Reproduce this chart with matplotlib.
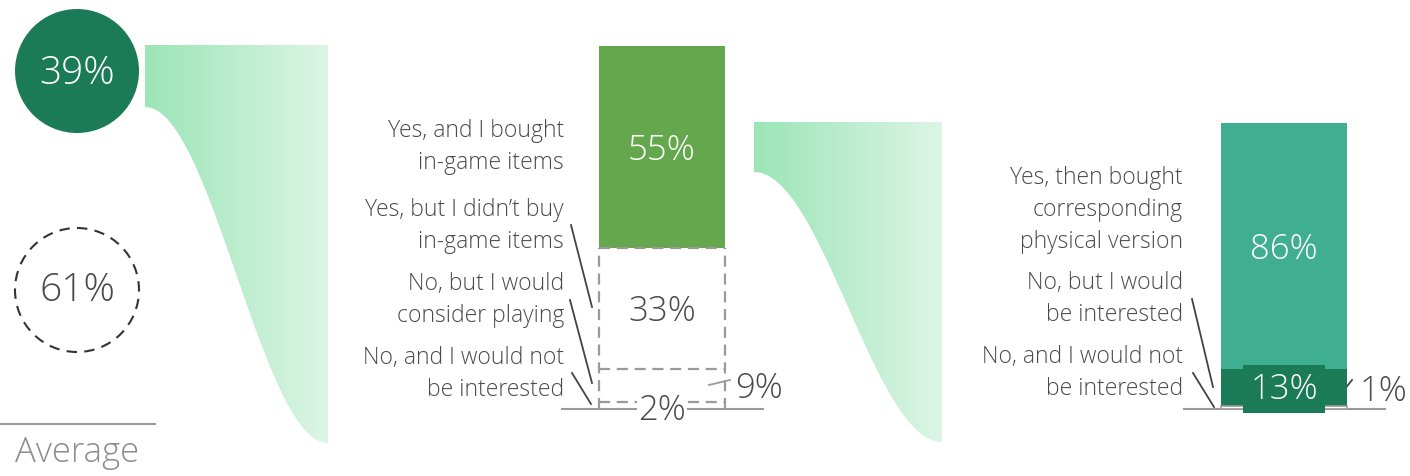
import numpy as np
import matplotlib.pyplot as plt
from matplotlib.patches import Circle, Polygon
from matplotlib.colors import LinearSegmentedColormap

# data
avg_values = [39, 61]
avg_label = 'Average'

q1_labels = ['Yes, and I bought\nin-game items',
             'Yes, but I didn\u2019t buy\nin-game items',
             'No, but I would\nconsider playing',
             'No, and I would not\nbe interested']
q1_values = [55, 33, 9, 2]

q2_labels = ['Yes, then bought\ncorresponding\nphysical version',
             'No, but I would\nbe interested',
             'No, and I would not\nbe interested']
q2_values = [86, 13, 1]

# colours
DARK = '#1b7b56'
GREEN = '#64a74d'
TEAL = '#3fae91'
TXT = '#4a4a4a'
GRAY = '#9a9a9a'

plt.rcParams['font.family'] = ['Open Sans', 'DejaVu Sans']
plt.rcParams['font.weight'] = 'light'

W, H = 1410, 476
fig = plt.figure(figsize=(W / 100, H / 100), dpi=100)

bg = fig.add_axes([0, 0, 1, 1])
bg.set_xlim(0, W)
bg.set_ylim(H, 0)
bg.axis('off')


def px_rect(x0, y0, x1, y1):
    return [x0 / W, 1 - y1 / H, (x1 - x0) / W, (y1 - y0) / H]


def funnel(x0, x1, ytop, yleft, ybot):
    t = np.linspace(0, 1, 120)
    cx = x1 - (x1 - x0) * t
    cy = yleft + (ybot - yleft) * (1 - np.cos(np.pi * (1 - t))) / 2
    pts = [(x0, ytop), (x1, ytop), (x1, ybot)] + list(zip(cx, cy))
    poly = Polygon(pts, closed=True, facecolor='none', edgecolor='none')
    bg.add_patch(poly)
    grad = np.linspace(0, 1, 256).reshape(1, -1)
    cmap = LinearSegmentedColormap.from_list('g', ['#9be5b6', '#dcf5e6'])
    im = bg.imshow(grad, cmap=cmap, extent=(x0, x1, ybot, ytop), aspect='auto')
    im.set_clip_path(poly)


# --- average circles ---
bg.add_patch(Circle((77, 71), 62, facecolor=DARK, edgecolor='none'))
bg.text(77, 74, f'{avg_values[0]}%', color='white', fontsize=28,
        ha='center', va='center')
bg.add_patch(Circle((77, 290), 62, facecolor='none', edgecolor='#333333',
                    lw=1.5, linestyle=(0, (5, 3.5))))
bg.text(77, 291, f'{avg_values[1]}%', color=TXT, fontsize=28,
        ha='center', va='center')
bg.plot([0, 155], [424, 424], color=GRAY, lw=1.5)
bg.text(77, 453, avg_label, color='#8c8c8c', fontsize=25, ha='center', va='center')

funnel(145, 328, 45, 107, 443)
funnel(754, 942, 122, 172, 442)

# --- question 1 bar ---
bg.plot([562, 763], [409, 409], color=GRAY, lw=1.5)
ax1 = fig.add_axes(px_rect(599, 46, 725, 409))
ax1.set_xlim(-0.5, 0.5)
ax1.set_ylim(0, sum(q1_values))
ax1.axis('off')
bottoms = np.cumsum([0] + q1_values[::-1][:-1])[::-1]
ax1.bar(0, q1_values[0], bottom=bottoms[0], width=1, color=GREEN)
# answers that did not play: dashed outline only
ax1.bar(0, q1_values[1:], bottom=bottoms[1:], width=1, facecolor='none',
        edgecolor='none')
dash = (0, (5, 3))
ax1.hlines(bottoms[:-1], -0.5, 0.5, colors=GRAY, lw=1.6, linestyles=[dash],
           clip_on=False)
ax1.vlines([-0.5, 0.5], 0, bottoms[0], colors=GRAY, lw=1.6, linestyles=[dash],
           clip_on=False)

ax1.text(0, bottoms[0] + q1_values[0] / 2, f'{q1_values[0]}%', color='white',
         fontsize=25, ha='center', va='center_baseline')
ax1.text(0, bottoms[1] + q1_values[1] / 2, f'{q1_values[1]}%', color=TXT,
         fontsize=25, ha='center', va='center_baseline')
ax1.text(0.58, bottoms[2] + q1_values[2] / 2, f'{q1_values[2]}%', color=TXT,
         fontsize=25, ha='left', va='center_baseline', clip_on=False)
ax1.text(0, 0.5, f'{q1_values[3]}%', color=TXT, fontsize=25, ha='center',
         va='center_baseline', clip_on=False,
         bbox=dict(facecolor='white', edgecolor='none', pad=0.5))

q1_label_y = [147, 226, 300, 374]
for lab, y in zip(q1_labels, q1_label_y):
    bg.text(564, y, lab, color=TXT, fontsize=16.5, ha='right', va='center',
            linespacing=1.42)
for (xa, ya, xb, yb) in [(571, 225, 592, 307), (570, 300, 592, 383),
                         (572, 373, 591, 404)]:
    bg.plot([xa, xb], [ya, yb], color='#444444', lw=1.3)
bg.plot([709, 730], [385, 380], color=GRAY, lw=1.3)

# --- question 2 bar ---
bg.plot([1184, 1385], [409, 409], color=GRAY, lw=1.5)
ax2 = fig.add_axes(px_rect(1221, 123, 1347, 409))
ax2.set_xlim(-0.5, 0.5)
ax2.set_ylim(0, sum(q2_values))
ax2.axis('off')
bottoms2 = np.cumsum([0] + q2_values[::-1][:-1])[::-1]
ax2.bar(0, q2_values[0], bottom=bottoms2[0], width=1, color=TEAL)
ax2.bar(0, q2_values[1], bottom=bottoms2[1], width=1, color=DARK)
ax2.bar(0, q2_values[2], bottom=bottoms2[2], width=1, facecolor='white',
        edgecolor=GRAY, lw=1.2, clip_on=False)
ax2.text(0, bottoms2[0] + q2_values[0] / 2, f'{q2_values[0]}%', color='white',
         fontsize=25, ha='center', va='center_baseline')
ax2.text(0, bottoms2[1] + q2_values[1] / 2 + 0.8, f'{q2_values[1]}%',
         color='white', fontsize=25, ha='center', va='center_baseline',
         bbox=dict(facecolor=DARK, edgecolor='none', pad=5))
ax2.text(0.6, bottoms2[2] + 7.5, f'{q2_values[2]}%', color=TXT,
         fontsize=25, ha='left', va='center_baseline', clip_on=False)

q2_label_y = [210, 299, 373]
for lab, y in zip(q2_labels, q2_label_y):
    bg.text(1183, y, lab, color=TXT, fontsize=16.5, ha='right', va='center',
            linespacing=1.42)
for (xa, ya, xb, yb) in [(1192, 299, 1213, 387), (1193, 373, 1214, 407),
                         (1332, 405, 1352, 380)]:
    bg.plot([xa, xb], [ya, yb], color='#444444', lw=1.3)

fig.savefig('out.png', dpi=100)
